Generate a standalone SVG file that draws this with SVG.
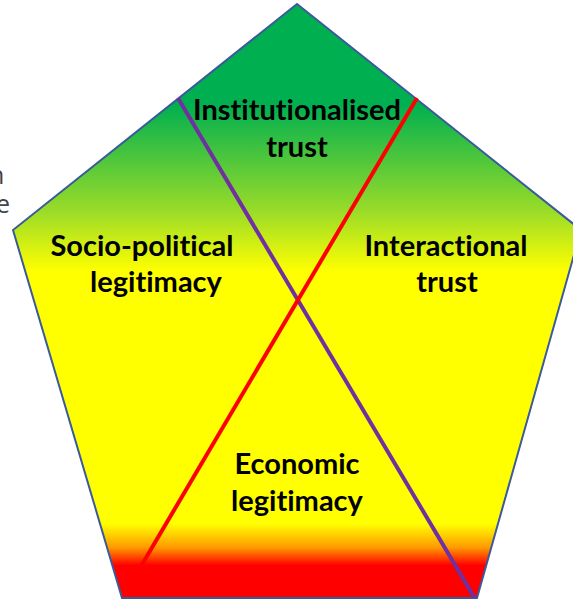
<svg xmlns="http://www.w3.org/2000/svg" width="573" height="601" viewBox="0 0 573 601">
<defs>
<linearGradient id="fill" x1="0" y1="4" x2="0" y2="598" gradientUnits="userSpaceOnUse">
<stop offset="0" stop-color="#00b050"/>
<stop offset="0.17" stop-color="#00b050"/>
<stop offset="0.35" stop-color="#9bdc28"/>
<stop offset="0.45" stop-color="#ffff00"/>
<stop offset="0.875" stop-color="#ffff00"/>
<stop offset="0.915" stop-color="#ff9900"/>
<stop offset="0.945" stop-color="#ff0000"/>
<stop offset="1" stop-color="#ff0000"/>
</linearGradient>
<style>
.lbl{font-family:Lato,"Open Sans","Liberation Sans",sans-serif;font-weight:bold;font-size:29px;fill:#000;text-anchor:middle;font-variant-ligatures:none}
.frag{font-family:"Open Sans","Liberation Sans",sans-serif;font-size:25px;fill:#444}
</style>
</defs>
<rect width="573" height="601" fill="#fff"/>
<text class="frag" x="-11" y="184">n</text>
<text class="frag" x="-4" y="213">e</text>
<g id="pentagon">
<polygon points="297,4 581,230 477,598 122,598 13,230" fill="url(#fill)" stroke="#3a5a9a" stroke-width="2"/>
</g>
<g id="connectors">
<line x1="178" y1="98" x2="474" y2="597" stroke="#7030a0" stroke-width="4"/>
<line x1="417" y1="98" x2="137" y2="573" stroke="#ff0000" stroke-width="4"/>
</g>
<g id="institutionalised-trust">
<text class="lbl" x="297" y="120">Institutionalised</text>
<text class="lbl" x="297" y="157">trust</text>
</g>
<g id="socio-political-legitimacy">
<text class="lbl" x="142" y="256">Socio-political</text>
<text class="lbl" x="156" y="292">legitimacy</text>
</g>
<g id="interactional-trust">
<text class="lbl" x="446" y="256">Interactional</text>
<text class="lbl" x="447" y="292">trust</text>
</g>
<g id="economic-legitimacy">
<text class="lbl" x="297" y="474">Economic</text>
<text class="lbl" x="297" y="511">legitimacy</text>
</g>
</svg>
